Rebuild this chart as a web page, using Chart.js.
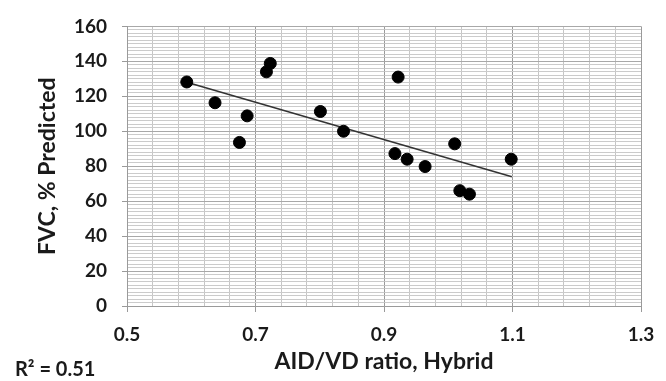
<!DOCTYPE html>
<html>
<head>
<meta charset="utf-8">
<script src="https://cdn.jsdelivr.net/npm/chart.js@4.4.1/dist/chart.umd.min.js"></script>
<style>
  html, body { margin: 0; padding: 0; background: #fff; }
  #wrap { position: relative; width: 666px; height: 381px; }
</style>
</head>
<body>
<div id="wrap"><canvas id="fvcChart" width="666" height="381"></canvas></div>
<script>
// values
const aidRatio = [0.593, 0.637, 0.675, 0.687, 0.717, 0.723, 0.801, 0.837, 0.917, 0.922, 0.936, 0.964, 1.010, 1.018, 1.033, 1.098];
const fvcPred  = [128.2, 116.3, 93.6, 108.8, 134.0, 138.8, 111.3, 100.0, 87.2, 131.0, 84.0, 79.8, 92.8, 66.0, 64.0, 84.0];
const trendX = [0.593, 1.099];
const trendY = [128.0, 74.0];
const xTitle = 'AID/VD ratio, Hybrid';
const yTitle = 'FVC, % Predicted';
const rSquared = 'R\u00b2 = 0.51';

const points = aidRatio.map((x, i) => ({ x: x, y: fvcPred[i] }));
const trend = trendX.map((x, i) => ({ x: x, y: trendY[i] }));

function isMajorX(v) {
  const k = (v - 0.5) / 0.2;
  return Math.abs(k - Math.round(k)) < 1e-6;
}
function isMajorY(v) {
  return Math.abs(v / 20 - Math.round(v / 20)) < 1e-6;
}

const rLabel = {
  id: 'rLabel',
  afterDraw(chart) {
    const ctx = chart.ctx;
    ctx.save();
    ctx.font = 'bold 20px Lato';
    ctx.fillStyle = '#1a1a1a';
    ctx.textBaseline = 'alphabetic';
    ctx.textAlign = 'left';
    ctx.fillText(rSquared, 15, 375.5);
    ctx.restore();
  }
};

const ctx = document.getElementById('fvcChart').getContext('2d');
const fvcChart = new Chart(ctx, {
  type: 'scatter',
  data: {
    datasets: [
      {
        label: 'FVC',
        data: points,
        backgroundColor: '#000',
        borderColor: '#000',
        pointRadius: 6,
        pointBorderWidth: 1,
        order: 1
      },
      {
        label: 'trend',
        data: trend,
        showLine: true,
        borderColor: '#333',
        borderWidth: 1.5,
        pointRadius: 0,
        order: 2
      }
    ]
  },
  options: {
    responsive: false,
    animation: false,
    layout: { padding: { left: 0, right: 25, top: 19, bottom: 0 } },
    plugins: {
      legend: { display: false },
      tooltip: { enabled: false }
    },
    scales: {
      x: {
        type: 'linear',
        min: 0.5,
        max: 1.3,
        afterFit(scale) { scale.height = 75; },
        ticks: {
          stepSize: 0.04,
          maxTicksLimit: 100,
          autoSkip: false,
          maxRotation: 0,
          padding: 11,
          color: '#1a1a1a',
          font: { family: 'Lato', size: 19, weight: 'bold' },
          callback: (v) => isMajorX(v) ? (Math.round(v * 10) / 10).toString() : ''
        },
        grid: {
          color: (c) => c.tick && isMajorX(c.tick.value) ? '#9a9a9a' : '#c6c6c6',
          tickColor: (c) => c.tick && isMajorX(c.tick.value) ? '#9a9a9a' : 'rgba(0,0,0,0)',
          tickLength: 6
        },
        border: { color: '#9a9a9a' },
        title: {
          display: true,
          text: xTitle,
          color: '#1a1a1a',
          font: { family: 'Lato', size: 23, weight: 'bold' },
          padding: { top: 0, bottom: 6 }
        }
      },
      y: {
        type: 'linear',
        min: 0,
        max: 160,
        afterFit(scale) { scale.width = 127; },
        ticks: {
          stepSize: 2,
          maxTicksLimit: 100,
          autoSkip: false,
          padding: 15,
          color: '#1a1a1a',
          font: { family: 'Lato', size: 19, weight: 'bold' },
          callback: (v) => isMajorY(v) ? Math.round(v).toString() : ''
        },
        grid: {
          color: (c) => c.tick && isMajorY(c.tick.value) ? '#a8a8a8' : '#cbcbcb',
          tickColor: (c) => c.tick && isMajorY(c.tick.value) ? '#9a9a9a' : 'rgba(0,0,0,0)',
          tickLength: 5
        },
        border: { color: '#9a9a9a' },
        title: {
          display: true,
          text: yTitle,
          color: '#1a1a1a',
          font: { family: 'Lato', size: 23, weight: 'bold' },
          padding: { top: 34, bottom: 0 }
        }
      }
    }
  },
  plugins: [rLabel]
});
</script>
</body>
</html>
